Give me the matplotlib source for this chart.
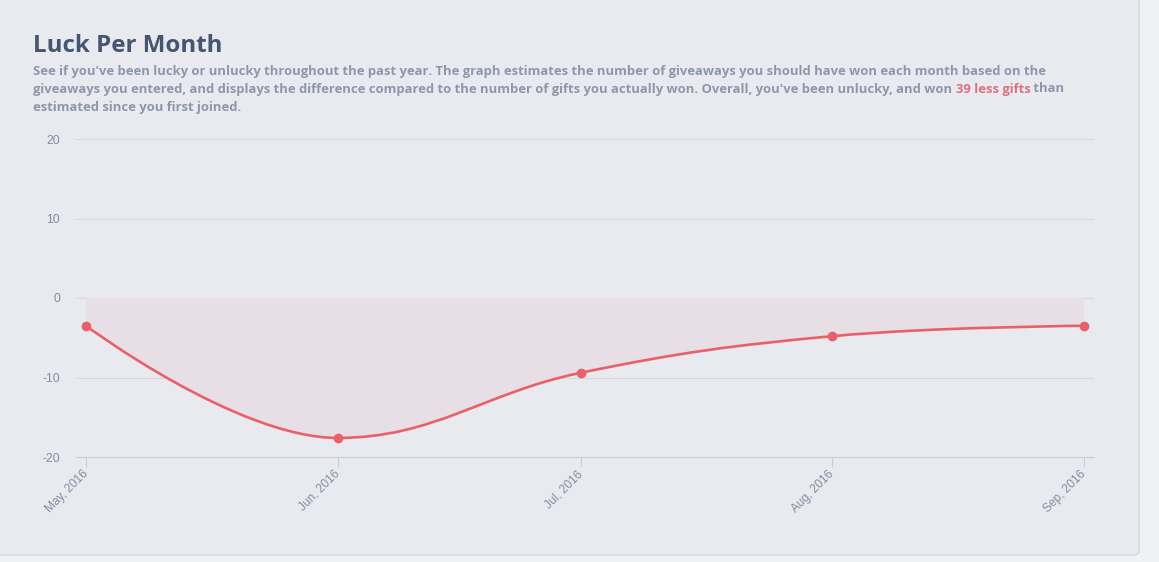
import matplotlib
matplotlib.use("Agg")
import matplotlib.pyplot as plt
import matplotlib.dates as mdates
from matplotlib.path import Path
from matplotlib.patches import PathPatch, FancyBboxPatch
import numpy as np
import datetime as dt

# ---- data ----
months = ["2016-05-01", "2016-06-01", "2016-07-01", "2016-08-01", "2016-09-01"]
tick_labels = ["May, 2016", "Jun, 2016", "Jul, 2016", "Aug, 2016", "Sep, 2016"]
luck = [-3.5, -17.6, -9.4, -4.8, -3.5]
y_ticks = [-20, -10, 0, 10, 20]

title = "Luck Per Month"
sub_lines = [
    "See if you've been lucky or unlucky throughout the past year. The graph estimates the number of giveaways you should have won each month based on the",
    "giveaways you entered, and displays the difference compared to the number of gifts you actually won. Overall, you've been unlucky, and won ",
    "estimated since you first joined.",
]
highlight = "39 less gifts"
after_highlight = " than"

# ---- styles ----
W, H = 1159, 562
BG_OUT = "#f0f1f5"
BG_PANEL = "#e9eaf0"
LINE = "#e8606a"
FILL = "#e8dee5"
GRID = "#d7d8de"
AXIS = "#c6cedb"
TXT_TITLE = "#465670"
TXT_SUB = "#8e97a9"
TXT_RED = "#d9737c"
TICK_TXT = "#838da1"

fig = plt.figure(figsize=(W / 100, H / 100), dpi=100, facecolor=BG_OUT)

# panel
panel = FancyBboxPatch((-10 / W, 1 - 555 / H), (1139 + 10) / W, (555 + 10) / H,
                       boxstyle="round,pad=0,rounding_size=0.006",
                       transform=fig.transFigure, facecolor=BG_PANEL,
                       edgecolor="#d6d8df", linewidth=1.0, zorder=-5)
fig.patches.append(panel)

ax = fig.add_axes([76 / W, 1 - 457 / H, (1094 - 76) / W, (457 - 139) / H])
ax.set_facecolor("none")
ax.set_zorder(2)

xd = np.array([mdates.date2num(dt.datetime.strptime(m, "%Y-%m-%d")) for m in months])
yd = np.array(luck, dtype=float)

pad_days = 1.23
ax.set_xlim(xd[0] - pad_days, xd[-1] + pad_days)
ax.set_ylim(-20, 20)

fig.canvas.draw()

# Highcharts-style spline in display coords
pts = ax.transData.transform(np.column_stack([xd, yd]))
px, py = pts[:, 0], pts[:, 1]
n = len(px)
sm = 1.5
den = sm + 1
leftC = [None] * n
rightC = [None] * n
for i in range(1, n - 1):
    lx, ly = px[i - 1], py[i - 1]
    nx, ny = px[i + 1], py[i + 1]
    x, y = px[i], py[i]
    lcx = (sm * x + lx) / den
    lcy = (sm * y + ly) / den
    rcx = (sm * x + nx) / den
    rcy = (sm * y + ny) / den
    corr = 0.0
    if rcx != lcx:
        corr = ((rcy - lcy) * (rcx - x)) / (rcx - lcx) + y - rcy
    lcy += corr
    rcy += corr
    if lcy > ly and lcy > y:
        lcy = max(ly, y); rcy = 2 * y - lcy
    elif lcy < ly and lcy < y:
        lcy = min(ly, y); rcy = 2 * y - lcy
    if rcy > ny and rcy > y:
        rcy = max(ny, y); lcy = 2 * y - rcy
    elif rcy < ny and rcy < y:
        rcy = min(ny, y); lcy = 2 * y - rcy
    leftC[i] = (lcx, lcy)
    rightC[i] = (rcx, rcy)

verts = [(px[0], py[0])]
codes = [Path.MOVETO]
for i in range(1, n):
    c1 = rightC[i - 1] if rightC[i - 1] is not None else (px[i - 1], py[i - 1])
    c2 = leftC[i] if leftC[i] is not None else (px[i], py[i])
    verts += [c1, c2, (px[i], py[i])]
    codes += [Path.CURVE4] * 3
inv = ax.transData.inverted()
vdata = inv.transform(np.array(verts))
line_path = Path(vdata, codes)

# fill path down to zero
fverts = list(vdata) + [(xd[-1], 0.0), (xd[0], 0.0), (xd[0], yd[0])]
fcodes = list(codes) + [Path.LINETO, Path.LINETO, Path.CLOSEPOLY]
ax.add_patch(PathPatch(Path(fverts, fcodes), facecolor=FILL, edgecolor="none", zorder=1))
ax.add_patch(PathPatch(line_path, facecolor="none", edgecolor=LINE, linewidth=1.9,
                       capstyle="round", joinstyle="round", zorder=3))
ax.plot(xd, yd, "o", color=LINE, markersize=6, zorder=4)

# grid / axes
for yv in y_ticks[1:]:
    ax.axhline(yv, color=GRID, linewidth=0.8, zorder=0.5)
for s in ["top", "right", "left"]:
    ax.spines[s].set_visible(False)
ax.spines["bottom"].set_color(AXIS)
ax.spines["bottom"].set_linewidth(0.8)

ax.set_yticks(y_ticks)
ax.set_yticklabels([str(v) for v in y_ticks], fontfamily="Liberation Sans", fontsize=8.7, color=TICK_TXT)
ax.tick_params(axis="y", length=0, pad=11.5)

ax.set_xticks(xd)
ax.set_xticklabels(tick_labels, fontfamily="Liberation Sans", fontsize=8.6, color=TICK_TXT,
                   rotation=45, ha="right", va="center", rotation_mode="anchor")
ax.tick_params(axis="x", length=7, width=0.8, color=AXIS, pad=4)

# title & subtitle
fig.text(33 / W, 1 - 45.5 / H, title, fontfamily="Open Sans", fontweight="bold",
         fontsize=17.4, color=TXT_TITLE, va="center", ha="left")

sub_kw = dict(fontfamily="Open Sans", fontweight="bold", fontsize=9.35, va="center", ha="left")
line_y = [71, 89, 107]
for txt, yy in zip(sub_lines, line_y):
    fig.text(33 / W, 1 - yy / H, txt, color=TXT_SUB, **sub_kw)

renderer = fig.canvas.get_renderer()
t2 = fig.text(33 / W, 1 - 89 / H, sub_lines[1], color="none", **sub_kw)
bb = t2.get_window_extent(renderer)
x_hl = bb.x1
t_hl = fig.text(x_hl / W, 1 - 89 / H, highlight, color=TXT_RED, **sub_kw)
bb2 = t_hl.get_window_extent(renderer)
fig.text(bb2.x1 / W, 1 - 89 / H, after_highlight, color=TXT_SUB, **sub_kw)

fig.savefig("out.png", dpi=100, facecolor=BG_OUT)
